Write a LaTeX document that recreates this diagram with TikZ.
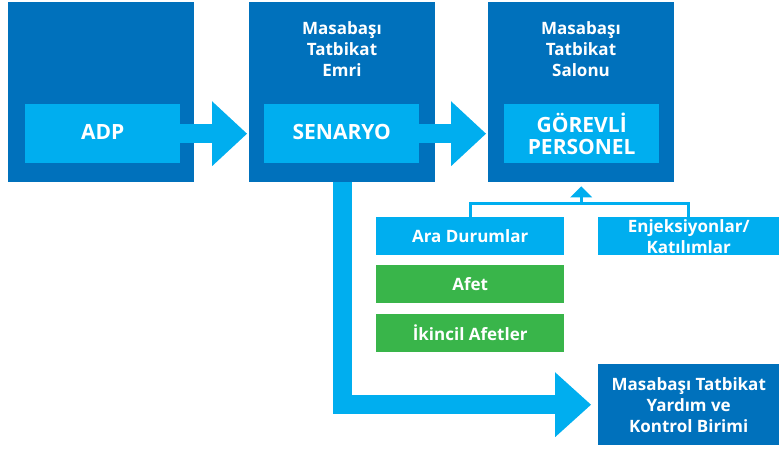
\documentclass[tikz,border=0pt]{standalone}
\usepackage{fontspec}
\setmainfont{Open Sans}[UprightFont=* Bold]
\usetikzlibrary{calc}
\definecolor{dblue}{HTML}{0071BC}
\definecolor{lblue}{HTML}{00AEEF}
\definecolor{grn}{HTML}{39B54A}
\tikzset{
  base/.style={anchor=north west, inner sep=0pt, text=white, align=center, font=\fontsize{17}{21}\selectfont},
  outerbox/.style={base, fill=dblue, minimum width=186pt, minimum height=180pt},
  innerbox/.style={base, fill=lblue, minimum width=155pt, minimum height=59pt, font=\fontsize{21}{22}\selectfont},
  smallbox/.style={base, fill=lblue, minimum width=188pt, minimum height=38pt},
  greenbox/.style={smallbox, fill=grn},
  titletext/.style={text=white, align=center, inner sep=0pt, font=\fontsize{17}{21}\selectfont},
  fatshaft/.style={draw=lblue, line width=18.6pt},
  thinline/.style={draw=lblue, line width=3pt},
}
\begin{document}
\begin{tikzpicture}[x=1pt,y=-1pt]
\useasboundingbox (0,0) rectangle (779,448);
% outer boxes
\node[outerbox] (b1) at (8,2) {};
\node[outerbox] (b2) at (249,2) {};
\node[outerbox] (b3) at (488,2) {};
\node[titletext] (t2) at (342,49) {Masabaşı\\Tatbikat\\Emri};
\node[titletext] (t3) at (581,49) {Masabaşı\\Tatbikat\\Salonu};
% inner boxes
\node[innerbox] (adp) at (25,104) {\raisebox{3pt}{ADP}};
\node[innerbox] (sen) at (264,104) {\raisebox{3pt}{SENARYO}};
\node[innerbox] (gor) at (504,104) {\raisebox{-1pt}{\parbox{155pt}{\centering GÖREVLİ\\PERSONEL}}};
% small boxes
\node[smallbox] (ara) at (376,217) {Ara Durumlar};
\node[smallbox, minimum width=181pt] (enj) at (598,217) {\raisebox{3pt}{\parbox{181pt}{\centering Enjeksiyonlar/\\Katılımlar}}};
\node[greenbox] (afet) at (376,265) {Afet};
\node[greenbox] (ikin) at (376,314) {İkincil Afetler};
\node[base, fill=dblue, minimum width=181pt, minimum height=81pt] (ctl) at (598,364) {Masabaşı Tatbikat\\Yardım ve\\Kontrol Birimi};
% fat arrow 1
\coordinate (h1) at ($(adp.east -| b2.west)+(-37,0)$);
\draw[fatshaft] (adp.east) -- (h1);
\fill[lblue] ($(h1)+(0,-32.5)$) -- ($(adp.east -| b2.west)+(-2,0)$) -- ($(h1)+(0,32.5)$) -- cycle;
% fat arrow 2
\coordinate (h2) at ($(sen.east -| b3.west)+(-37,0)$);
\draw[fatshaft] (sen.east) -- (h2);
\fill[lblue] ($(h2)+(0,-32.5)$) -- ($(sen.east -| b3.west)+(-2,0)$) -- ($(h2)+(0,32.5)$) -- cycle;
% L arrow
\coordinate (h3) at ($(ctl.west)+(-43,0)$);
\draw[fatshaft, line join=miter] (b2.south) |- (h3);
\fill[lblue] ($(h3)+(0,-32.5)$) -- ($(ctl.west)+(-7,0)$) -- ($(h3)+(0,32.5)$) -- cycle;
% thin connector
\coordinate (j) at ($(b3.south)+(0,21.5)$);
\draw[thinline] (ara.north) |- (j) -| (enj.north);
\draw[thinline] (j) -- ($(b3.south)+(0,14)$);
\fill[lblue] ($(b3.south)+(-11,15)$) -- ($(b3.south)+(0,4)$) -- ($(b3.south)+(11,15)$) -- cycle;
\end{tikzpicture}
\end{document}
